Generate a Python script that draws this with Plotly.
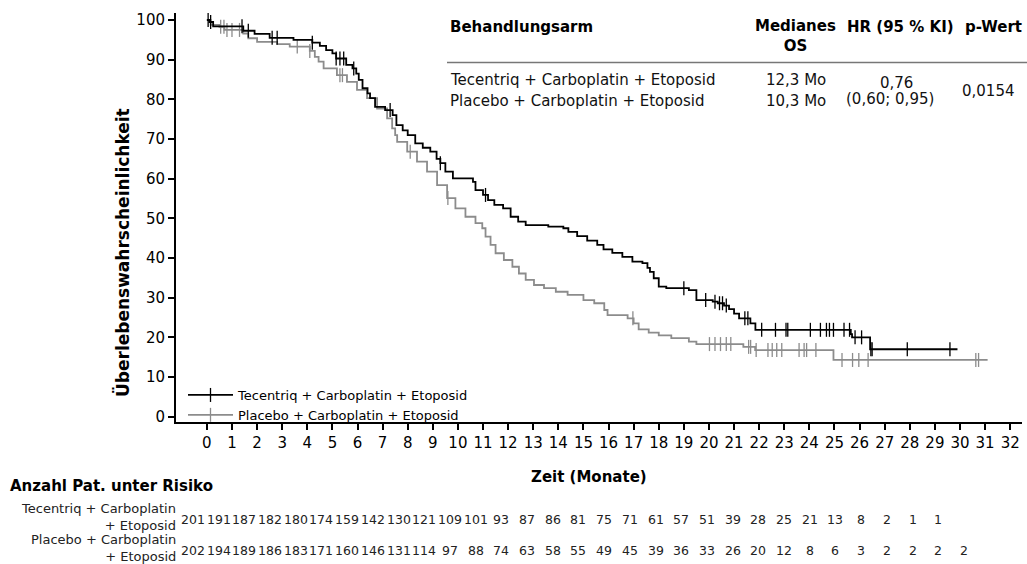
import bisect
import plotly.graph_objects as go

# ---------------- data ----------------
arm_names = ["Tecentriq + Carboplatin + Etoposid", "Placebo + Carboplatin + Etoposid"]

# Kaplan-Meier step points (time in months, survival in %)
tec_t = [0, 0.1, 0.25, 1.45, 1.9, 2.5, 3.45, 4.2, 4.5, 4.75, 5.0, 5.15, 5.55, 5.8, 5.95,
         6.05, 6.2, 6.4, 6.5, 6.7, 7.1, 7.4, 7.55, 7.8, 8.0, 8.3, 8.6, 8.9, 9.15, 9.3,
         9.5, 9.8, 10.6, 10.7, 11.0, 11.2, 11.45, 11.8, 12.1, 12.4, 12.7, 13.6, 14.2,
         14.4, 14.75, 15.15, 15.55, 15.8, 16.15, 16.55, 16.95, 17.35, 17.55, 17.65,
         17.8, 18.0, 18.3, 19.2, 19.5, 20.15, 20.35, 20.6, 20.8, 21.0, 21.2, 21.65,
         21.85, 25.65, 25.7, 26.42]
tec_s = [100, 99.5, 98.4, 97.3, 96.5, 95.5, 95.0, 94.3, 93.5, 92.4, 91.6, 90.3, 88.7, 87.8, 86.5,
         84.9, 82.8, 81.5, 80.3, 78.1, 77.3, 76.0, 73.5, 72.2, 71.0, 68.9, 67.8, 66.8, 65.0, 63.9,
         61.8, 60.1, 59.2, 57.1, 55.9, 54.6, 53.4, 52.5, 50.4, 49.2, 48.3, 47.9, 47.5,
         46.6, 45.5, 44.4, 43.3, 42.2, 41.3, 40.3, 39.1, 38.7, 37.5, 36.5,
         34.9, 32.8, 32.4, 31.9, 29.4, 29.0, 28.6, 28.0, 27.1, 26.0, 24.8, 23.5,
         21.9, 20.8, 20.0, 17.0]
tec_end = 29.9
tec_cens = [0.05, 0.15, 1.4, 1.65, 2.6, 2.8, 4.2, 5.15, 5.3, 5.45, 5.85, 7.3, 9.3, 11.1,
            19.0, 19.87, 20.24, 20.42, 20.54, 20.69, 21.43, 21.55, 22.1, 22.65, 23.07,
            23.14, 24.04, 24.44, 24.68, 24.8, 24.96, 25.38, 25.6, 25.82, 26.08, 26.45,
            26.5, 27.9, 29.6]

pla_t = [0, 0.15, 0.5, 0.7, 1.45, 1.65, 2.0, 2.8, 3.3, 4.1, 4.3, 4.45, 4.65, 5.18, 5.58,
         5.98, 6.38, 6.78, 7.18, 7.38, 7.5, 7.58, 7.98, 8.37, 8.77, 9.17, 9.57, 9.9, 10.3,
         10.7, 10.97, 11.1, 11.3, 11.5, 11.83, 12.17, 12.43, 12.7, 13.03, 13.43, 13.9,
         14.37, 15.0, 15.43, 15.83, 15.96, 16.76, 17.0, 17.2, 17.6, 18.0, 18.5, 19.2,
         19.5, 21.37, 21.84, 24.96]
pla_s = [100, 98.8, 98.3, 97.5, 96.6, 95.4, 94.5, 93.9, 93.3, 92.2, 90.7, 89.5, 87.8, 86.1, 84.4,
         82.4, 80.3, 77.7, 75.2, 72.7, 71.0, 69.3, 66.8, 64.3, 61.8, 58.4, 55.1, 52.5, 50.4,
         48.8, 47.5, 45.4, 43.3, 41.2, 39.5, 37.8, 36.1, 34.5, 33.2, 32.4, 31.5,
         30.7, 29.4, 28.6, 26.9, 25.6, 24.8, 23.5, 22.0, 21.2, 20.5, 19.8, 18.9,
         18.3, 17.6, 16.8, 14.3]
pla_end = 31.1
pla_cens = [0.55, 0.68, 0.8, 1.0, 1.3, 3.6, 4.1, 5.3, 5.4, 8.1, 9.6, 16.97, 20.02, 20.24,
            20.46, 20.69, 20.87, 21.58, 21.66, 21.88, 22.35, 22.52, 22.7, 22.9, 23.59,
            23.79, 23.89, 24.26, 25.3, 25.72, 25.97, 26.34, 30.63, 30.74]

x_ticks = list(range(0, 33))
y_ticks = list(range(0, 101, 10))

risk_tec = [201, 191, 187, 182, 180, 174, 159, 142, 130, 121, 109, 101, 93, 87, 86, 81, 75,
            71, 61, 57, 51, 39, 28, 25, 21, 13, 8, 2, 1, 1]
risk_pla = [202, 194, 189, 186, 183, 171, 160, 146, 131, 114, 97, 88, 74, 63, 58, 55, 49,
            45, 39, 36, 33, 26, 20, 12, 8, 6, 3, 2, 2, 2, 2]

table_header = ["Behandlungsarm", "Medianes<br>OS", "HR (95 % KI)", "p-Wert"]
median_os = ["12,3 Mo", "10,3 Mo"]
hr_text = ["0,76", "(0,60; 0,95)"]
p_value = "0,0154"

# ---------------- style ----------------
FONT = "DejaVu Sans"
BLACK = "#000000"
GRAY = "#8c8c8c"
W, H = 1027, 564
L, R, T, B = 176, 5, 13, 142
PW, PH = W - L - R, H - T - B


def px2x(px):
    return (px - L) / PW


def py2y(py):
    return (H - B - py) / PH


def step_val(ts, ss, t):
    return ss[bisect.bisect_right(ts, t) - 1]


fig = go.Figure()

for ts, ss, tend, cens, col in [(pla_t, pla_s, pla_end, pla_cens, GRAY),
                                 (tec_t, tec_s, tec_end, tec_cens, BLACK)]:
    fig.add_trace(go.Scatter(x=ts + [tend], y=ss + [ss[-1]], mode="lines",
                             line=dict(shape="hv", color=col, width=1.8),
                             showlegend=False, hoverinfo="skip"))
    fig.add_trace(go.Scatter(x=cens, y=[step_val(ts, ss, c) for c in cens], mode="markers",
                             marker=dict(symbol="line-ns", size=10, color=col,
                                         line=dict(width=1.3, color=col)),
                             showlegend=False, hoverinfo="skip"))

for name, col in zip(arm_names, [BLACK, GRAY]):
    fig.add_trace(go.Scatter(x=[None], y=[None], mode="lines+markers", name=name,
                             line=dict(color=col, width=1.8),
                             marker=dict(symbol="line-ns", size=10, color=col,
                                         line=dict(width=1.3, color=col))))

ann = []


def note(text, px, py, font, xanchor="center", **kw):
    ann.append(dict(text=text, x=px2x(px), y=py2y(py), xref="paper", yref="paper",
                    xanchor=xanchor, yanchor="middle", showarrow=False, font=font, **kw))


# axis titles
note("<b>Zeit (Monate)</b>", 589, 477, dict(size=15, family=FONT, color=BLACK))
note("<b>Überlebenswahrscheinlichkeit</b>", 122, 253, dict(size=17, family=FONT, color=BLACK),
     textangle=-90)

# summary table
hdr_font = dict(size=15, family=FONT, color=BLACK)
body_font = dict(size=15, family=FONT, color="#111111")
note("<b>" + table_header[0] + "</b>", 448, 27, hdr_font, xanchor="left")
note("<b>" + table_header[1] + "</b>", 795, 36, hdr_font)
note("<b>" + table_header[2] + "</b>", 900, 27, hdr_font)
note("<b>" + table_header[3] + "</b>", 993, 27, hdr_font)
for name, med, py in zip(arm_names, median_os, [80, 101]):
    note(name, 448, py, body_font, xanchor="left")
    note(med, 796, py, body_font)
for txt, px, py in zip(hr_text, [896, 890], [83, 99]):
    note(txt, px, py, body_font)
note(p_value, 988, 91, body_font)

# risk table
note("<b>Anzahl Pat. unter Risiko</b>", 8, 486, dict(size=15, family=FONT, color=BLACK),
     xanchor="left")
row_labels = ["Tecentriq + Carboplatin<br>+ Etoposid", "Placebo + Carboplatin<br>+ Etoposid"]
for lab, risk, py in zip(row_labels, [risk_tec, risk_pla], [517, 548]):
    note(lab, 178, py, dict(size=13, family=FONT, color="#222222"), xanchor="right",
         align="right")
    for i, n in enumerate(risk):
        ann.append(dict(text=str(n), x=x_ticks[i], y=py2y(py + 2), xref="x", yref="paper",
                        xanchor="center", yanchor="middle", xshift=-14 + 0.6 * i,
                        showarrow=False, font=dict(size=12.5, family=FONT, color="#222222")))

fig.update_layout(
    width=W, height=H,
    margin=dict(l=L, r=R, t=T, b=B, autoexpand=False),
    paper_bgcolor="white", plot_bgcolor="white",
    font=dict(family=FONT, color=BLACK),
    annotations=ann,
    shapes=[dict(type="line", xref="paper", yref="paper", x0=px2x(447), x1=px2x(1027),
                 y0=py2y(62.5), y1=py2y(62.5), line=dict(color="#777777", width=1.5))],
    legend=dict(x=px2x(183), y=py2y(380), xanchor="left", yanchor="top",
                bgcolor="rgba(0,0,0,0)", font=dict(size=13, family=FONT, color=BLACK),
                tracegroupgap=0, itemwidth=45),
    showlegend=True,
)
fig.update_xaxes(range=[-1.23, 32.47], tickvals=x_ticks, ticks="outside", ticklen=6,
                 tickwidth=1.5, tickcolor=BLACK, showline=True, linewidth=2, linecolor=BLACK,
                 showgrid=False, zeroline=False, tickfont=dict(size=15, family=FONT, color=BLACK))
fig.update_yaxes(range=[-1.34, 101.77], tickvals=y_ticks, ticks="outside", ticklen=6,
                 tickwidth=1.5, tickcolor=BLACK, showline=True, linewidth=2, linecolor=BLACK,
                 showgrid=False, zeroline=False, tickfont=dict(size=15, family=FONT, color=BLACK))

fig.write_html("out.html")
